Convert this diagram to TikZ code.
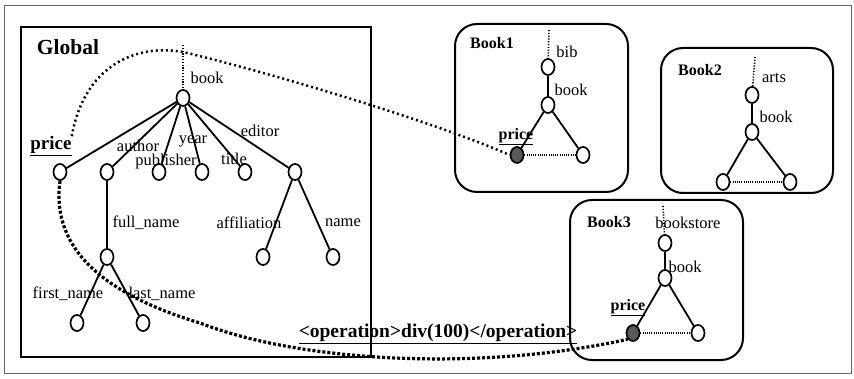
\documentclass[tikz,border=0pt]{standalone}
\usepackage{fontspec}
\setmainfont{Liberation Serif}
\usetikzlibrary{shapes.geometric}
\tikzstyle{edge} = [line width=1.8pt]
\tikzstyle{stub} = [line width=1.6pt,dash pattern=on 1.2pt off 1.6pt]
\tikzstyle{sib} = [line width=1.4pt,dash pattern=on 1pt off 1.2pt]

\begin{document}
\begin{tikzpicture}
        [
            x=1pt, y=-1pt,
            nd/.style={ellipse,draw=black,line width=1.7pt,minimum width=13pt,minimum height=16pt,inner sep=0pt},
            hit/.style={nd,fill=black!65},
            lbl/.style={inner sep=0pt,font=\fontsize{16.5}{18}\selectfont},
            ttl/.style={inner sep=0pt,font=\fontsize{16}{18}\selectfont\bfseries},
            src/.style={rounded corners=22pt,line width=2pt,fill=white},
            linka/.style={line width=2.5pt,dash pattern=on 2pt off 3pt},
            linkb/.style={line width=3.2pt,dash pattern=on 3pt off 2pt},
        ]
    \useasboundingbox (0,0) rectangle (854,379);
    \draw[black!60,line width=0.8pt] (4,5) rectangle (851,373);

    % global schema
    \draw[line width=2pt] (21,27) rectangle (371,357);
    \node[inner sep=0pt,font=\fontsize{21.5}{24}\selectfont\bfseries] (gttl) at (68,47) {Global};
    \coordinate (gtop) at (183,45);
    \node[nd] (gbook) at (183,98){};
    \node[nd] (gprice) at (60,172){};
    \node[nd] (gauthor) at (107,172){};
    \node[nd] (gpub) at (159,172){};
    \node[nd] (gyear) at (202,172){};
    \node[nd] (gtitle) at (245,172){};
    \node[nd] (geditor) at (295,172){};
    \node[nd] (gfull) at (107,257){};
    \node[nd] (gfirst) at (77,323){};
    \node[nd] (glast) at (143,323){};
    \node[nd] (gaff) at (263,257){};
    \node[nd] (gname) at (333,257){};

    \draw[stub] (gtop) -- (gbook);
    \foreach \c in {gprice,gauthor,gpub,gyear,gtitle,geditor}
        \draw[edge] (gbook) -- (\c);
    \draw[edge] (gauthor) -- (gfull);
    \draw[edge] (gfull) -- (gfirst);
    \draw[edge] (gfull) -- (glast);
    \draw[edge] (geditor) -- (gaff);
    \draw[edge] (geditor) -- (gname);

    \node[lbl] (lgbook) at (207,78){book};
    \node[inner sep=0pt,font=\fontsize{19}{21}\selectfont\bfseries] (lgprice) at (51,146){\underline{price}};
    \node[lbl] (lgauthor) at (138,146){author};
    \node[lbl] (lgyear) at (193,141){year};
    \node[lbl] (lgpub) at (166,162){publisher};
    \node[lbl] (lgtitle) at (234,159){title};
    \node[lbl] (lgeditor) at (260,131){editor};
    \node[lbl] (lgfull) at (146,223){full\_name};
    \node[lbl] (lgaff) at (249,223){affiliation};
    \node[lbl] (lgname) at (343,223){name};
    \node[lbl] (lgfirst) at (68,294){first\_name};
    \node[lbl] (lglast) at (162,294){last\_name};

    % Book1
    \draw[src] (455,24) rectangle (628,192);
    \node[ttl] (b1ttl) at (492,43){Book1};
    \coordinate (b1top) at (549,30);
    \node[nd] (b1bib) at (548,67){};
    \node[nd] (b1book) at (548,105){};
    \node[hit] (b1price) at (517,155){};
    \node[nd] (b1other) at (583,155){};
    \draw[stub] (b1top) -- (b1bib);
    \draw[edge] (b1bib) -- (b1book);
    \draw[edge] (b1book) -- (b1price);
    \draw[edge] (b1book) -- (b1other);
    \draw[sib] (b1price) -- (b1other);
    \node[lbl] (lb1bib) at (567,52){bib};
    \node[lbl] (lb1book) at (571,90){book};
    \node[ttl] (lb1price) at (516,137){\underline{price}};

    % Book2
    \draw[src] (661,48) rectangle (833,193);
    \node[ttl] (b2ttl) at (700,70){Book2};
    \coordinate (b2top) at (755,57);
    \node[nd] (b2arts) at (752,95){};
    \node[nd] (b2book) at (752,132){};
    \node[nd] (b2left) at (723,182){};
    \node[nd] (b2right) at (790,182){};
    \draw[stub] (b2top) -- (b2arts);
    \draw[edge] (b2arts) -- (b2book);
    \draw[edge] (b2book) -- (b2left);
    \draw[edge] (b2book) -- (b2right);
    \draw[sib] (b2left) -- (b2right);
    \node[lbl] (lb2arts) at (774,78){arts};
    \node[lbl] (lb2book) at (776,117){book};

    % Book3
    \draw[src] (570,200) rectangle (743,360);
    \node[ttl] (b3ttl) at (609,222){Book3};
    \coordinate (b3top) at (663,206);
    \node[nd] (b3store) at (665,243){};
    \node[nd] (b3book) at (665,278){};
    \node[hit] (b3price) at (633,333){};
    \node[nd] (b3other) at (698,333){};
    \draw[stub] (b3top) -- (b3store);
    \draw[edge] (b3store) -- (b3book);
    \draw[edge] (b3book) -- (b3price);
    \draw[edge] (b3book) -- (b3other);
    \draw[sib] (b3price) -- (b3other);
    \node[lbl] (lb3store) at (688,223){bookstore};
    \node[lbl] (lb3book) at (685,267){book};
    \node[ttl] (lb3price) at (628,308){\underline{price}};

    % mappings
    \draw[linka] (lgprice.north east) .. controls (85,62) and (140,44) .. (183,52)
        .. controls (260,70) and (430,120) .. (b1price.west);
    \draw[linkb] (gprice.south) .. controls (52,240) and (90,290) .. (200,323)
        .. controls (300,362) and (480,372) .. (b3price.south west);
    \node[inner sep=0pt,font=\fontsize{19.5}{21}\selectfont\bfseries] (op) at (438,334)
        {\underline{<operation>div(100)</operation>}};
\end{tikzpicture}
\end{document}
